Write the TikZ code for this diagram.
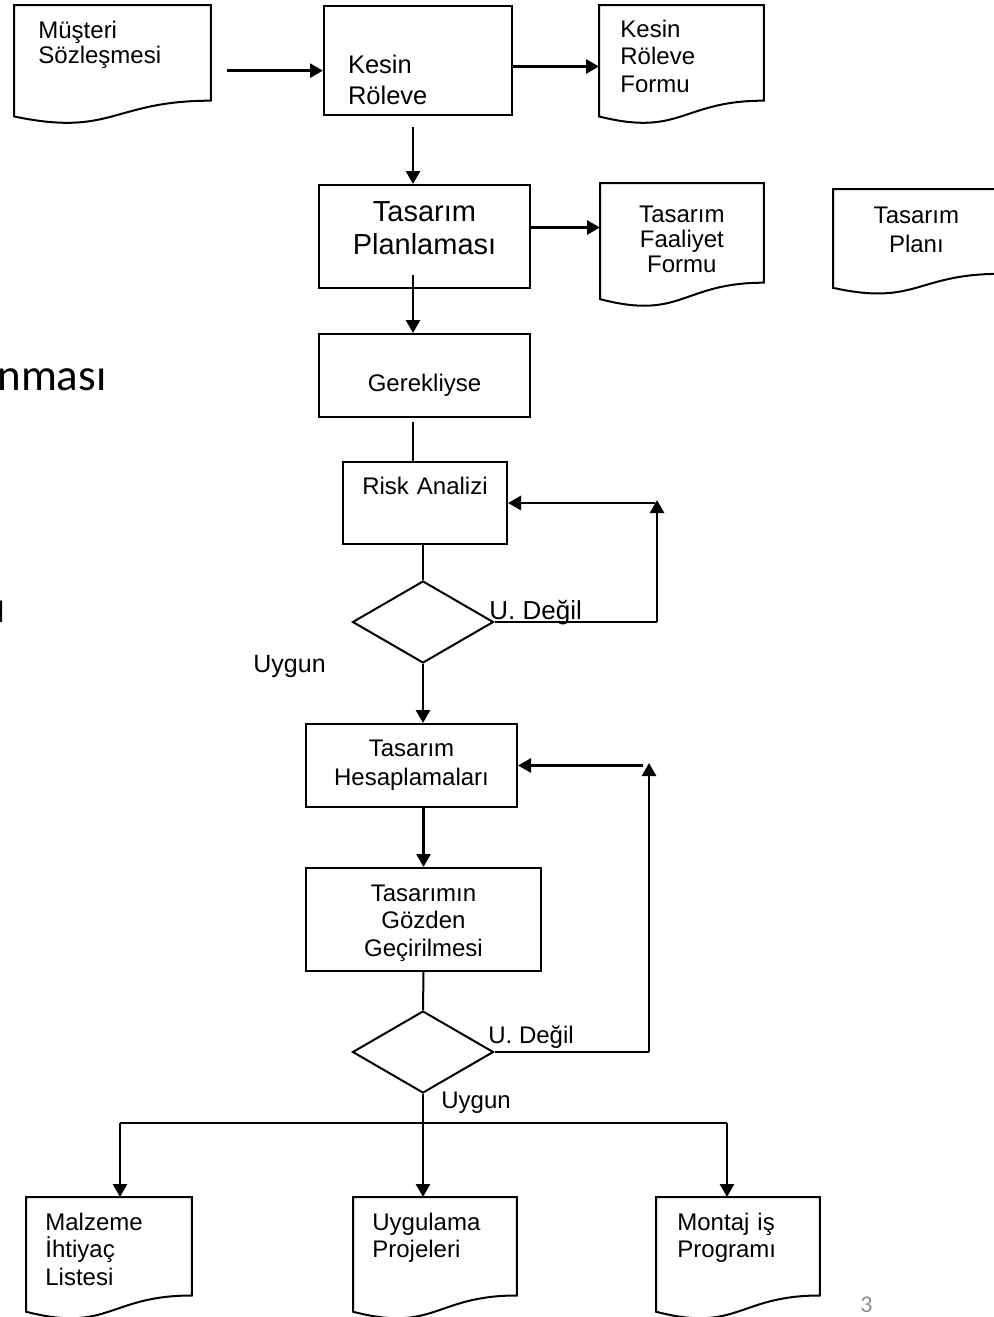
\documentclass[tikz,border=0pt]{standalone}
\usepackage{fontspec}
\setmainfont{Liberation Sans}
\newfontfamily\slideFont{Carlito}
\usetikzlibrary{
    shapes.geometric, arrows.meta, positioning, calc
}
\definecolor{lineBlack}{HTML}{000000}
\definecolor{pageGray}{HTML}{8C8C8C}
\newcommand{\DrawDoc}[1]{
    \draw[docLine] (#1.north west) -- (#1.north east) -- ($(#1.north east)!0.802!(#1.south east)$)
        .. controls ($(#1.north)!0.802!(#1.south)$) and ($(#1.north)!1.108!(#1.south)$) .. ($(#1.north west)!0.934!(#1.south west)$) -- cycle;
}
\tikzset{
    % Common
    flowArrow/.style={-{Triangle[length=6.5pt,width=7pt]}, line width=1.4pt, draw=lineBlack},
    plainLine/.style={line width=1pt, draw=lineBlack},
    flowText/.style={font=\fontsize{12}{13.75}\selectfont},
    % Boxes
    procBox/.style={draw=lineBlack, line width=1pt, anchor=north west, inner ysep=0pt, align=center, flowText},
    docBox/.style={draw=none, anchor=north west, inner ysep=0pt, align=left, flowText},
    docLine/.style={draw=lineBlack, line width=1pt},
    decisionBox/.style={diamond, draw=lineBlack, line width=1pt, minimum width=70.5pt, minimum height=41pt, inner sep=0pt},
    % Labels
    edgeLabel/.style={anchor=base west, inner sep=0pt, flowText},
    slideText/.style={anchor=base west, inner sep=0pt, font=\slideFont\fontsize{22.5}{27}\selectfont}
}
\begin{document}
\begin{tikzpicture}[x=0.5pt, y=-0.5pt]
    \useasboundingbox (0,0) rectangle (994,1317);
    \clip (0,0) rectangle (994,1317);

    % Top row
    \node[docBox, font=\fontsize{12}{12.5}\selectfont, text width=74pt, inner xsep=12pt, text height=16.5pt, text depth=42.75pt] (contract) at (14,5) {Müşteri\\Sözleşmesi};
    \node[procBox, align=left, font=\fontsize{12.75}{15.5}\selectfont, text width=70pt, inner xsep=12pt, text height=33.5pt, text depth=21pt] (survey) at (323,5) {Kesin\\Röleve};
    \node[docBox, text width=61pt, inner xsep=10.5pt, text height=16pt, text depth=43.25pt] (surveyForm) at (599,5) {Kesin\\Röleve\\Formu};

    % Planning row
    \node[procBox, font=\fontsize{14.5}{16.5}\selectfont, text width=95.5pt, inner xsep=5pt, text height=18pt, text depth=33.5pt] (planning) at (318,184) {Tasarım\\Planlaması};
    \node[docBox, align=center, font=\fontsize{12}{12.5}\selectfont, text width=69.5pt, inner xsep=6pt, text height=19.5pt, text depth=42.25pt] (activityForm) at (600,183) {Tasarım\\Faaliyet\\Formu};
    \node[docBox, align=center, font=\fontsize{12}{14.5}\selectfont, text width=71pt, inner xsep=6pt, text height=17pt, text depth=35.5pt] (designPlan) at (833,189) {Tasarım\\Planı};

    % Middle column
    \node[procBox, text width=95.5pt, inner xsep=5pt, text height=28.5pt, text depth=13pt] (ifNeeded) at (318,333) {Gerekliyse};
    \node[procBox, text width=72pt, inner xsep=5pt, text height=16pt, text depth=25pt] (risk) at (342,461) {Risk Analizi};
    \node[decisionBox] (riskOk) at (423,622) {};
    \node[procBox, font=\fontsize{12}{14.5}\selectfont, text width=95.5pt, inner xsep=5pt, text height=16pt, text depth=25.5pt] (designCalc) at (305,723) {Tasarım\\Hesaplamaları};
    \node[procBox, text width=107.5pt, inner xsep=5pt, text height=16.5pt, text depth=35pt] (review) at (305,867) {Tasarımın\\Gözden\\Geçirilmesi};
    \node[decisionBox] (reviewOk) at (423,1052) {};

    % Bottom row
    \node[docBox, text width=63.5pt, inner xsep=9.5pt, text height=16.5pt, text depth=44.5pt] (materials) at (26,1197) {Malzeme\\İhtiyaç\\Listesi};
    \node[docBox, text width=62.5pt, inner xsep=9.5pt, text height=16.5pt, text depth=44.5pt] (projects) at (353,1197) {Uygulama\\Projeleri};
    \node[docBox, text width=60.5pt, inner xsep=10.5pt, text height=16.5pt, text depth=44.5pt] (schedule) at (656,1197) {Montaj iş\\Programı};

    \foreach \d in {contract, surveyForm, activityForm, designPlan, materials, projects, schedule} {\DrawDoc{\d}}

    % Top connectors
    \draw[flowArrow] ([xshift=8pt,yshift=-3pt]contract.east) -- ([yshift=-3pt]contract.east -| survey.west);
    \draw[flowArrow] ([yshift=-3pt]survey.east) -- ([yshift=-3pt]survey.east -| surveyForm.west);
    \draw[flowArrow] ([xshift=-2.5pt,yshift=-5.5pt]survey.south) -- ([xshift=-2.5pt]survey.south |- planning.north);
    \draw[flowArrow] ([yshift=4.5pt]planning.east) -- ([yshift=4.5pt]planning.east -| activityForm.west);
    \draw[flowArrow] ([xshift=-5.75pt,yshift=7pt]planning.south) -- ([xshift=-5.75pt]planning.south |- ifNeeded.north);
    \draw[plainLine] ([xshift=-5.75pt,yshift=-2pt]ifNeeded.south) -- ([xshift=-5.75pt]ifNeeded.south |- risk.north);

    % Risk loop
    \coordinate (riskLoop) at (657,500);
    \draw[plainLine] (riskOk.north |- risk.south) -- (riskOk.north);
    \draw[flowArrow] (riskOk.south) -- (riskOk.south |- designCalc.north);
    \draw[plainLine] (riskOk.east) -- (riskOk.east -| riskLoop);
    \draw[flowArrow] (riskOk.east -| riskLoop) -- (riskLoop);
    \draw[flowArrow] ([xshift=-1pt]riskLoop |- risk.east) -- (risk.east);

    % Review loop
    \coordinate (reviewLoop) at (649,763);
    \draw[flowArrow] (review.north |- designCalc.south) -- (review.north);
    \draw[plainLine] (review.south) -- (reviewOk.north);
    \draw[plainLine] (reviewOk.east) -- (reviewOk.east -| reviewLoop);
    \draw[flowArrow] (reviewOk.east -| reviewLoop) -- (reviewLoop);
    \draw[flowArrow] ([xshift=-3pt]reviewLoop |- designCalc.east) -- (designCalc.east);

    % Outputs
    \coordinate (split) at (423,1123);
    \coordinate (busLeft) at (120,1123);
    \coordinate (busRight) at (727,1123);
    \draw[plainLine] (reviewOk.south) -- (split);
    \draw[plainLine] (busLeft) -- (busRight);
    \foreach \c/\n in {busLeft/materials, split/projects, busRight/schedule}
        \draw[flowArrow] (\c) -- (\c |- \n.north);

    % Labels
    \node[edgeLabel, font=\fontsize{13}{15}\selectfont] (notOkA) at (489,619) {U. Değil};
    \node[edgeLabel, font=\fontsize{12.5}{15}\selectfont] (okA) at (253,672) {Uygun};
    \node[edgeLabel] (notOkB) at (488,1043) {U. Değil};
    \node[edgeLabel] (okB) at (441,1108) {Uygun};

    % Slide leftovers
    \node[slideText] (slideWord) at (-3,390) {nması};
    \node[slideText] (slideEdge) at (-5,622) {ı};
    \node[anchor=base west, inner sep=0pt, text=pageGray, font=\slideFont\fontsize{12}{14}\selectfont] (pageNo) at (860,1312) {3};
\end{tikzpicture}
\end{document}
